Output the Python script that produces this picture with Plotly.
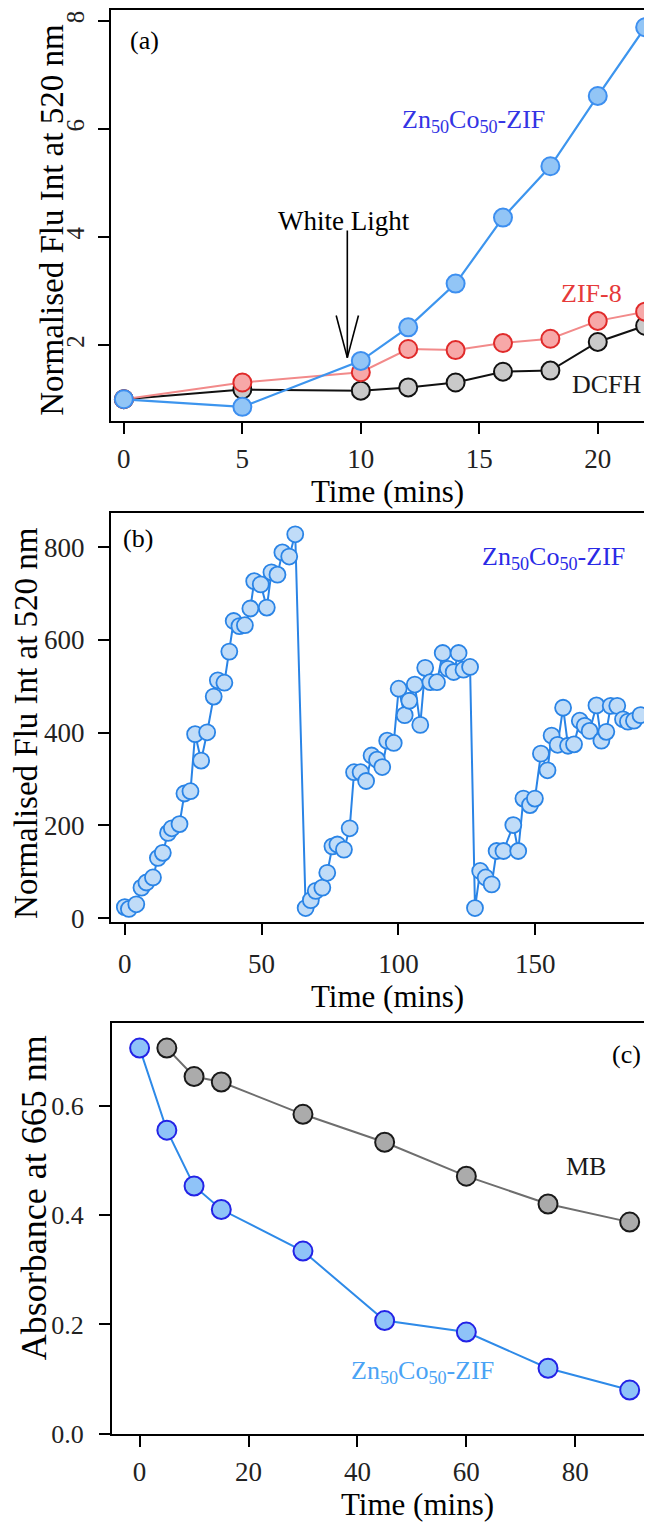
import plotly.graph_objects as go

# ---------------- Panel (a) data ----------------
a_time = [0, 5, 10, 12, 14, 16, 18, 20, 22]
a_zif = [1.0, 0.86, 1.71, 2.33, 3.14, 4.36, 5.31, 6.61, 7.88]
a_zif8 = [1.0, 1.31, 1.50, 1.93, 1.91, 2.04, 2.12, 2.45, 2.62]
a_dcfh = [1.0, 1.18, 1.16, 1.22, 1.31, 1.51, 1.53, 2.06, 2.36]

# White-light arrow (data coordinates of panel a)
arrow_x = 9.43
arrow_top = 4.12
arrow_tip = 1.77
arrow_head_y = 2.55
arrow_half_w = 0.47

# ---------------- Panel (b) data ----------------
b_time = [0, 1.5, 4.2, 6.1, 7.9, 10.3, 12.1, 13.9, 15.8, 17.2, 20.0, 21.8, 24.0, 25.7,
          27.9, 30.1, 32.5, 34.0, 36.4, 38.2, 39.8, 41.9, 43.9, 45.9, 47.3, 49.7, 51.9,
          53.6, 55.8, 57.6, 60.1, 62.3,
          66.1, 68.0, 69.8, 72.2, 74.0, 75.9, 77.7, 80.1, 82.2, 83.8, 86.2, 88.2, 90.2,
          92.2, 94.1, 95.9, 98.3, 100.1, 102.3, 104.0, 106.0, 108.0, 109.8, 111.7, 114.1,
          116.2, 118.1, 120.2, 122.0, 123.8, 126.2,
          128.0, 129.9, 131.9, 134.1, 135.9, 138.4, 142.0, 143.8, 145.7, 148.1, 149.9,
          152.1, 154.5, 156.0, 158.2, 160.2, 162.0, 164.2, 166.3, 168.1, 169.9, 172.4,
          174.2, 176.0, 177.6, 180.0, 182.1, 183.9, 186.1, 188.5]
b_flu = [24, 20, 30, 66, 77, 88, 130, 141, 184, 194, 203, 269, 274, 397,
         340, 401, 478, 513, 508, 575, 641, 630, 632, 668, 727, 720, 670,
         746, 741, 789, 780, 828,
         22, 39, 59, 66, 98, 155, 159, 148, 194, 315, 315, 296, 351,
         342, 326, 383, 378, 495, 438, 469, 504, 417, 540, 509, 509,
         572, 538, 531, 572, 536, 542,
         22, 102, 88, 73, 145, 145, 201, 145, 258, 244, 258,
         355, 319, 394, 374, 454, 372, 375, 426, 415, 404, 459,
         383, 402, 458, 458, 429, 424, 426, 438]

# ---------------- Panel (c) data ----------------
c_time_zif = [0, 5, 10, 15, 30, 45, 60, 75, 90]
c_abs_zif = [0.705, 0.555, 0.453, 0.410, 0.334, 0.207, 0.186, 0.120, 0.080]
c_time_mb = [5, 10, 15, 30, 45, 60, 75, 90]
c_abs_mb = [0.705, 0.653, 0.643, 0.584, 0.533, 0.471, 0.420, 0.387]

# Tick values
a_xticks = [0, 5, 10, 15, 20]
a_yticks = [2, 4, 6, 8]
b_xticks = [0, 50, 100, 150]
b_yticks = [0, 200, 400, 600, 800]
c_xticks = [0, 20, 40, 60, 80]
c_yticks = [0.0, 0.2, 0.4, 0.6]
c_yticklabels = ["0.0", "0.2", "0.4", "0.6"]

FONT = "Liberation Serif, Times New Roman, serif"
W, H = 652, 1528

def px_dom_x(l, r):
    return [l / W, r / W]

def px_dom_y(top, bottom):
    return [1 - bottom / H, 1 - top / H]

fig = go.Figure()

# Panel (a)
fig.add_trace(go.Scatter(x=a_time, y=a_dcfh, mode="lines+markers", xaxis="x", yaxis="y",
                         line=dict(color="#111111", width=2),
                         marker=dict(size=18, color="#c9c9c9", line=dict(color="#111111", width=2))))
fig.add_trace(go.Scatter(x=a_time, y=a_zif8, mode="lines+markers", xaxis="x", yaxis="y",
                         line=dict(color="#f28a8a", width=2),
                         marker=dict(size=18, color="#f7a8a8", line=dict(color="#e02a2a", width=2))))
fig.add_trace(go.Scatter(x=a_time, y=a_zif, mode="lines+markers", xaxis="x", yaxis="y",
                         line=dict(color="#3d95ee", width=2.2),
                         marker=dict(size=18, color="#92c5f6", line=dict(color="#3d8ff0", width=2))))

# Panel (b)
fig.add_trace(go.Scatter(x=b_time, y=b_flu, mode="lines+markers", xaxis="x2", yaxis="y2",
                         line=dict(color="#2a84e6", width=2),
                         marker=dict(size=16, color="#c0dcf8", line=dict(color="#2a84e6", width=1.8))))

# Panel (c)
fig.add_trace(go.Scatter(x=c_time_mb, y=c_abs_mb, mode="lines+markers", xaxis="x3", yaxis="y3",
                         line=dict(color="#6e6e6e", width=2),
                         marker=dict(size=19, color="#ababab", line=dict(color="#1a1a1a", width=2))))
fig.add_trace(go.Scatter(x=c_time_zif, y=c_abs_zif, mode="lines+markers", xaxis="x3", yaxis="y3",
                         line=dict(color="#2e8ae8", width=2),
                         marker=dict(size=19, color="#8fc3f8", line=dict(color="#2323e6", width=2))))

axis_common = dict(showline=True, linecolor="black", linewidth=2, mirror=True,
                   ticks="outside", ticklen=11, tickwidth=2, tickcolor="black",
                   showgrid=False, zeroline=False,
                   tickfont=dict(family=FONT, size=27, color="#222222"))

fig.update_layout(
    width=W, height=H,
    margin=dict(l=0, r=0, t=0, b=0),
    paper_bgcolor="white", plot_bgcolor="white",
    showlegend=False,
    xaxis=dict(axis_common, domain=px_dom_x(103, 650), anchor="y", range=[-0.55, 22.5],
               tickvals=a_xticks, ticklabelstandoff=2),
    yaxis=dict(axis_common, domain=px_dom_y(2, 417), anchor="x", range=[0.6, 8.2],
               tickvals=a_yticks, tickangle=-90, ticklabelstandoff=4,
               tickfont=dict(family=FONT, size=25, color="#222222")),
    xaxis2=dict(axis_common, domain=px_dom_x(103, 645), anchor="y2", range=[-5.1, 192.7],
                tickvals=b_xticks, ticklabelstandoff=6),
    yaxis2=dict(axis_common, domain=px_dom_y(510, 923), anchor="x2", range=[-8, 874],
                tickvals=b_yticks, ticklabelstandoff=8),
    xaxis3=dict(axis_common, domain=px_dom_x(104, 651), anchor="y3", range=[-5.1, 95.2],
                tickvals=c_xticks, ticklabelstandoff=2),
    yaxis3=dict(axis_common, domain=px_dom_y(1025, 1440), anchor="x3", range=[0, 0.751],
                tickvals=c_yticks, ticktext=c_yticklabels, ticklabelstandoff=10,
                tickfont=dict(family=FONT, size=26, color="#222222")),
)

# Arrow (White Light) drawn as shapes in panel (a) data coordinates
line_style = dict(color="black", width=1.6)
fig.add_shape(type="line", xref="x", yref="y", x0=arrow_x, x1=arrow_x, y0=arrow_top, y1=arrow_tip, line=line_style)
fig.add_shape(type="line", xref="x", yref="y", x0=arrow_x - arrow_half_w, x1=arrow_x, y0=arrow_head_y, y1=arrow_tip, line=line_style)
fig.add_shape(type="line", xref="x", yref="y", x0=arrow_x + arrow_half_w, x1=arrow_x, y0=arrow_head_y, y1=arrow_tip, line=line_style)

def ann(text, x, y, xref, yref, size, color="black", angle=0, xanchor="center", yanchor="middle"):
    fig.add_annotation(text=text, x=x, y=y, xref=xref, yref=yref, showarrow=False,
                       textangle=angle, xanchor=xanchor, yanchor=yanchor,
                       font=dict(family=FONT, size=size, color=color))

zif_label = "Zn<sub>50</sub>Co<sub>50</sub>-ZIF"

# Panel (a) texts
ann("(a)", 0.88, 7.63, "x", "y", 26)
ann(zif_label, 14.74, 6.14, "x", "y", 26, color="#3434e4")
ann("White Light", 9.3, 4.30, "x", "y", 27)
ann("ZIF-8", 19.75, 2.96, "x", "y", 26, color="#e63a3a")
ann("DCFH", 20.4, 1.27, "x", "y", 26, color="#1a1a1a")

# Panel (b) texts
ann("(b)", 5.0, 818, "x2", "y2", 26)
ann(zif_label, 156.7, 778, "x2", "y2", 26, color="#2a2ae6")

# Panel (c) texts
ann("(c)", 89.4, 0.694, "x3", "y3", 26)
ann("MB", 82, 0.489, "x3", "y3", 26, color="#1a1a1a")
ann(zif_label, 51.9, 0.113, "x3", "y3", 26, color="#4aa3f5")

# Axis titles (placed in paper coordinates)
def pxx(v):
    return v / W

def pxy(v):
    return 1 - v / H

ann("Normalised Flu Int at 520 nm", pxx(44), pxy(214), "paper", "paper", 33, angle=-90)
ann("Time (mins)", pxx(380), pxy(488), "paper", "paper", 31)
ann("Normalised Flu Int at 520 nm", pxx(18), pxy(722), "paper", "paper", 33, angle=-90)
ann("Time (mins)", pxx(380), pxy(998), "paper", "paper", 31)
ann("Absorbance at 665 nm", pxx(26), pxy(1201), "paper", "paper", 36, angle=-90)
ann("Time (mins)", pxx(410), pxy(1511), "paper", "paper", 31)

fig.write_html("out.html")
